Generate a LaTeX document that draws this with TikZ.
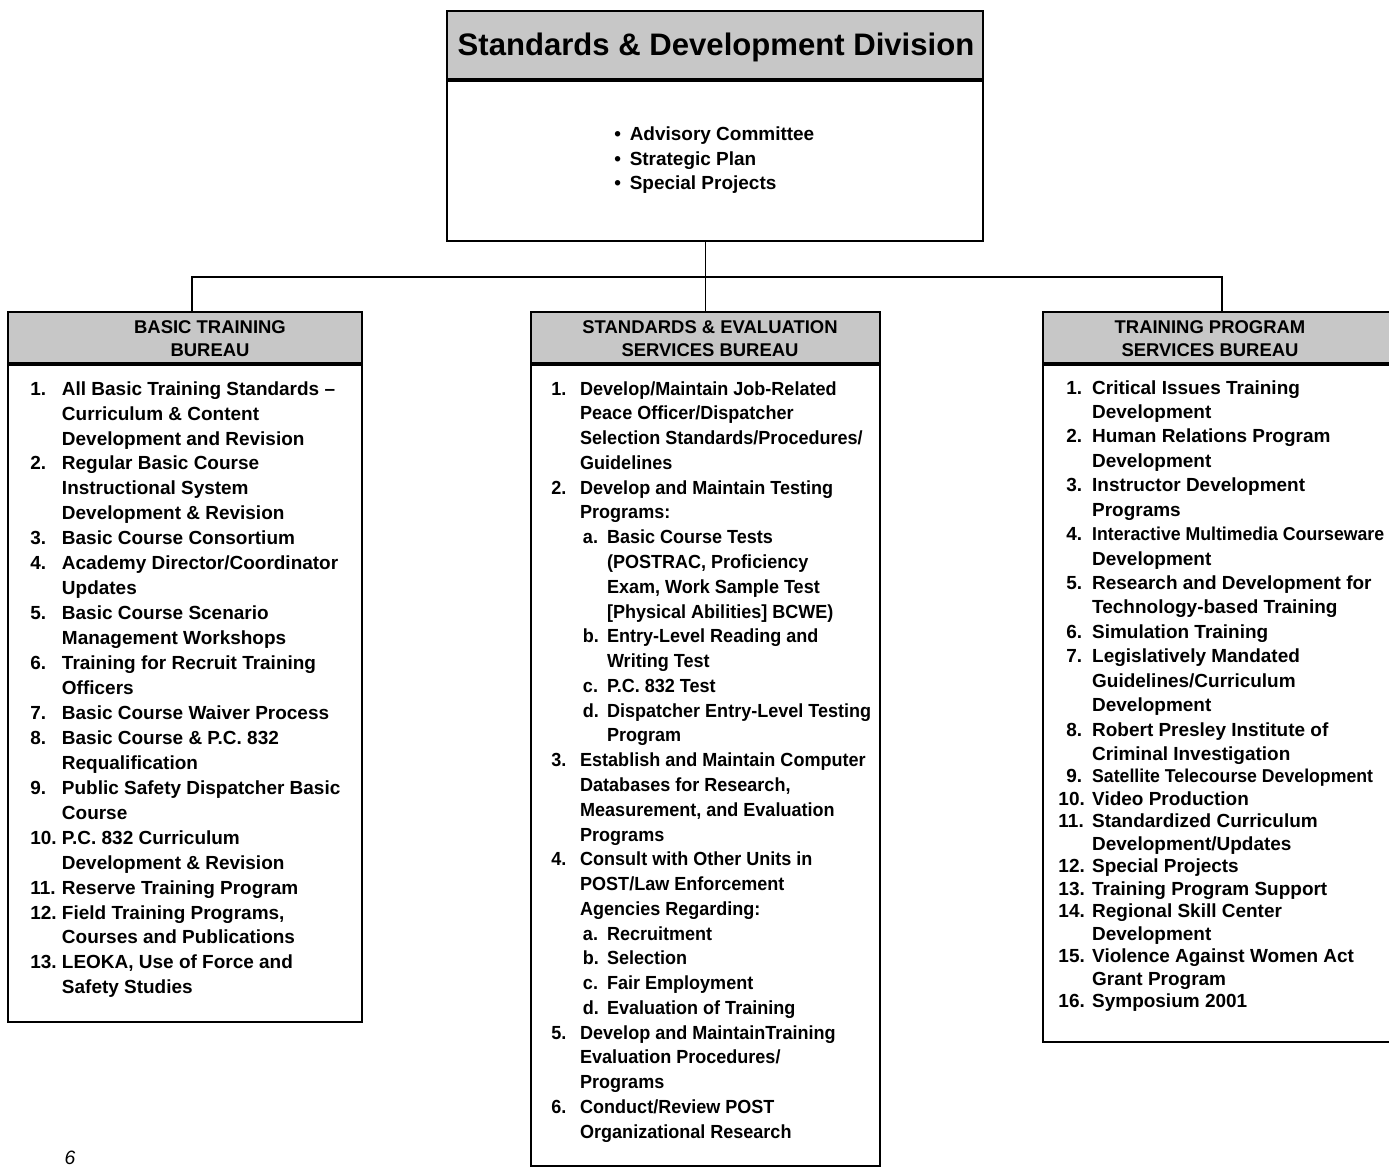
\documentclass[tikz,border=0pt]{standalone}
\usepackage{fontspec}
\setmainfont{Liberation Sans}
\newfontfamily\narrowsans[FakeStretch=0.95]{Liberation Sans}
\usetikzlibrary{positioning}

% number column and hanging indent for the duty lists
\newcommand{\nmbox}[2][18pt]{\makebox[#1][l]{#2}}
\newcommand{\cont}[1][18pt]{\hspace*{#1}}

\begin{document}
\begin{tikzpicture}[x=0.02cm, y=-0.02cm,
    head/.style={rectangle, draw, line width=1.1pt, fill=black!22, inner sep=0pt},
    body/.style={rectangle, draw, line width=1.1pt, fill=white, inner sep=0pt},
    caption/.style={font=\fontsize{10.5}{13}\selectfont\bfseries, align=center, inner sep=0pt},
    duties/.style={font=\fontsize{10.8}{14.2}\selectfont\bfseries, align=left, inner sep=0pt, anchor=north west},
    link/.style={line width=1.1pt},
    node distance=0pt
]
    \useasboundingbox (0,0) rectangle (1389,1169);

    % Division
    \node[head, minimum width=10.72cm, minimum height=1.36cm, anchor=north] (divhead) at (715,10) {};
    \node[body, minimum width=10.72cm, minimum height=3.2cm, below=of divhead] (divbody) {};
    \node[font=\fontsize{17.7}{20}\selectfont\bfseries] (divtitle) at (716,47) {Standards \& Development Division};
    \node[duties, font=\fontsize{10.8}{14.2}\selectfont\bfseries] (divlist) at (614,126)
        {\textbullet\hspace{5pt}Advisory Committee\\ \textbullet\hspace{5pt}Strategic Plan\\ \textbullet\hspace{5pt}Special Projects};

    % Bureaus
    \node[head, minimum width=7.08cm, minimum height=1.02cm, anchor=north] (btbhead) at (185,311) {};
    \node[body, minimum width=7.08cm, minimum height=13.15cm, below=of btbhead] (btbbody) {};
    \node[head, minimum width=6.98cm, minimum height=1.02cm, anchor=north] (sebhead) at (705.5,311) {};
    \node[body, minimum width=6.98cm, minimum height=16.02cm, below=of sebhead] (sebbody) {};
    \node[head, minimum width=7.16cm, minimum height=1.02cm, anchor=north] (tpbhead) at (1222,311) {};
    \node[body, minimum width=7.16cm, minimum height=13.55cm, below=of tpbhead] (tpbbody) {};

    \node[caption] (btbtitle) at (210,338.5) {BASIC TRAINING\\BUREAU};
    \node[caption] (sebtitle) at (710,338.5) {STANDARDS \& EVALUATION\\SERVICES BUREAU};
    \node[caption] (tpbtitle) at (1210,338.5) {TRAINING PROGRAM\\SERVICES BUREAU};

    % Connectors
    \coordinate (hub) at (706,277);
    \draw[link] (divbody.south -| sebhead.north) -- (sebhead.north);
    \draw[link] ([xshift=0.14cm]btbhead.north) |- (hub) -| (tpbhead.north);

    % Basic Training Bureau
    \node[duties] (btblist) at (30,381) {%
        \nmbox{1.}All Basic Training Standards --\\
        \cont Curriculum \& Content\\
        \cont Development and Revision\\
        \nmbox{2.}Regular Basic Course\\
        \cont Instructional System\\
        \cont Development \& Revision\\
        \nmbox{3.}Basic Course Consortium\\
        \nmbox{4.}Academy Director/Coordinator\\
        \cont Updates\\
        \nmbox{5.}Basic Course Scenario\\
        \cont Management Workshops\\
        \nmbox{6.}Training for Recruit Training\\
        \cont Officers\\
        \nmbox{7.}Basic Course Waiver Process\\
        \nmbox{8.}Basic Course \& P.C. 832\\
        \cont Requalification\\
        \nmbox{9.}Public Safety Dispatcher Basic\\
        \cont Course\\
        \nmbox{10.}P.C. 832 Curriculum\\
        \cont Development \& Revision\\
        \nmbox{11.}Reserve Training Program\\
        \nmbox{12.}Field Training Programs,\\
        \cont Courses and Publications\\
        \nmbox{13.}LEOKA, Use of Force and\\
        \cont Safety Studies};

    % Standards & Evaluation Services Bureau
    \node[duties, font=\narrowsans\fontsize{10.8}{14.1}\selectfont\bfseries] (seblist) at (551,381) {%
        \nmbox[16.4pt]{1.}Develop/Maintain Job-Related\\
        \cont[16.4pt]Peace Officer/Dispatcher\\
        \cont[16.4pt]Selection Standards/Procedures/\\
        \cont[16.4pt]Guidelines\\
        \nmbox[16.4pt]{2.}Develop and Maintain Testing\\
        \cont[16.4pt]Programs:\\
        \cont\nmbox[13.7pt]{a.}Basic Course Tests\\
        \cont[31.7pt](POSTRAC, Proficiency\\
        \cont[31.7pt]Exam, Work Sample Test\\
        \cont[31.7pt]{[}Physical Abilities{]} BCWE)\\
        \cont\nmbox[13.7pt]{b.}Entry-Level Reading and\\
        \cont[31.7pt]Writing Test\\
        \cont\nmbox[13.7pt]{c.}P.C. 832 Test\\
        \cont\nmbox[13.7pt]{d.}Dispatcher Entry-Level Testing\\
        \cont[31.7pt]Program\\
        \nmbox[16.4pt]{3.}Establish and Maintain Computer\\
        \cont[16.4pt]Databases for Research,\\
        \cont[16.4pt]Measurement, and Evaluation\\
        \cont[16.4pt]Programs\\
        \nmbox[16.4pt]{4.}Consult with Other Units in\\
        \cont[16.4pt]POST/Law Enforcement\\
        \cont[16.4pt]Agencies Regarding:\\
        \cont\nmbox[13.7pt]{a.}Recruitment\\
        \cont\nmbox[13.7pt]{b.}Selection\\
        \cont\nmbox[13.7pt]{c.}Fair Employment\\
        \cont\nmbox[13.7pt]{d.}Evaluation of Training\\
        \nmbox[16.4pt]{5.}Develop and MaintainTraining\\
        \cont[16.4pt]Evaluation Procedures/\\
        \cont[16.4pt]Programs\\
        \nmbox[16.4pt]{6.}Conduct/Review POST\\
        \cont[16.4pt]Organizational Research};

    % Training Program Services Bureau
    \node[duties, font=\fontsize{10.8}{13.9}\selectfont\bfseries] (tpblist) at (1066,380) {%
        \nmbox[14.7pt]{1.}Critical Issues Training\\
        \cont[14.7pt]Development\\
        \nmbox[14.7pt]{2.}Human Relations Program\\
        \cont[14.7pt]Development\\
        \nmbox[14.7pt]{3.}Instructor Development\\
        \cont[14.7pt]Programs\\
        \nmbox[14.7pt]{4.}{\narrowsans\fontsize{10.6}{13.9}\selectfont Interactive Multimedia Courseware}\\
        \cont[14.7pt]Development\\
        \nmbox[14.7pt]{5.}Research and Development for\\
        \cont[14.7pt]Technology-based Training\\
        \nmbox[14.7pt]{6.}Simulation Training\\
        \nmbox[14.7pt]{7.}Legislatively Mandated\\
        \cont[14.7pt]Guidelines/Curriculum\\
        \cont[14.7pt]Development\\
        \nmbox[14.7pt]{8.}Robert Presley Institute of\\
        \cont[14.7pt]Criminal Investigation\\[-1.1pt]
        \nmbox[14.7pt]{9.}{\narrowsans\fontsize{10.6}{13.9}\selectfont Satellite Telecourse Development}\\[-1.1pt]
        \hspace*{-4.5pt}\nmbox[19.2pt]{10.}Video Production\\[-1.1pt]
        \hspace*{-4.5pt}\nmbox[19.2pt]{11.}Standardized Curriculum\\[-1.1pt]
        \cont[14.7pt]Development/Updates\\[-1.1pt]
        \hspace*{-4.5pt}\nmbox[19.2pt]{12.}Special Projects\\[-1.1pt]
        \hspace*{-4.5pt}\nmbox[19.2pt]{13.}Training Program Support\\[-1.1pt]
        \hspace*{-4.5pt}\nmbox[19.2pt]{14.}Regional Skill Center\\[-1.1pt]
        \cont[14.7pt]Development\\[-1.1pt]
        \hspace*{-4.5pt}\nmbox[19.2pt]{15.}Violence Against Women Act\\[-1.1pt]
        \cont[14.7pt]Grant Program\\[-1.1pt]
        \hspace*{-4.5pt}\nmbox[19.2pt]{16.}Symposium 2001};

    % page number
    \node[font=\fontsize{11}{11}\selectfont\itshape] (pageno) at (70,1158) {6};
\end{tikzpicture}
\end{document}
